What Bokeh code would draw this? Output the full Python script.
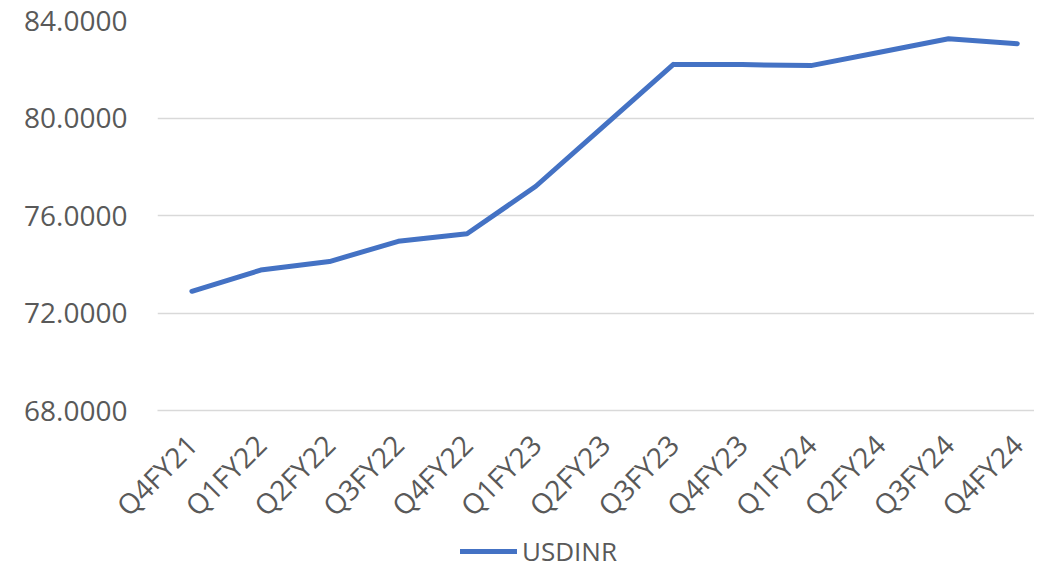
import math
from bokeh.plotting import figure
from bokeh.layouts import column
from bokeh.models import Range1d, FixedTicker, PrintfTickFormatter, Legend, LegendItem
from bokeh.embed import file_html
from bokeh.resources import INLINE

categories = ["Q4FY21", "Q1FY22", "Q2FY22", "Q3FY22", "Q4FY22", "Q1FY23", "Q2FY23",
              "Q3FY23", "Q4FY23", "Q1FY24", "Q2FY24", "Q3FY24", "Q4FY24"]
usdinr = [72.89, 73.76, 74.11, 74.94, 75.25, 77.20, 79.70,
          82.20, 82.19, 82.15, 82.70, 83.25, 83.05]
y_ticks = [68, 72, 76, 80, 84]
series_name = "USDINR"

FONT = "Open Sans"
TXT = "#595959"
GRID = "#d9d9d9"
LINE = "#4472C4"

x = list(range(len(categories)))

p = figure(width=1034, height=540, output_backend="svg", toolbar_location=None,
           x_range=Range1d(-0.5, 12.25), y_range=Range1d(68, 84),
           min_border_left=157, min_border_right=0, min_border_top=20, min_border_bottom=130)
p.outline_line_color = None
p.background_fill_color = "white"
p.border_fill_color = "white"

# y axis
p.yaxis.ticker = FixedTicker(ticks=y_ticks)
p.yaxis.formatter = PrintfTickFormatter(format="%.4f")
p.yaxis.axis_line_color = None
p.yaxis.major_tick_line_color = None
p.yaxis.minor_tick_line_color = None
p.yaxis.major_tick_out = 0
p.yaxis.major_tick_in = 0
p.yaxis.major_label_standoff = 30
p.yaxis.major_label_text_font = FONT
p.yaxis.major_label_text_font_size = "28px"
p.yaxis.major_label_text_color = TXT

# x axis
p.xaxis.ticker = FixedTicker(ticks=x)
p.xaxis.major_label_overrides = {i: c for i, c in enumerate(categories)}
p.xaxis.major_label_orientation = math.pi / 4
p.xaxis.axis_line_color = GRID
p.xaxis.axis_line_width = 1.3
p.xaxis.major_tick_line_color = None
p.xaxis.minor_tick_line_color = None
p.xaxis.major_tick_out = 0
p.xaxis.major_tick_in = 0
p.xaxis.major_label_standoff = 29
p.xaxis.major_label_text_font = FONT
p.xaxis.major_label_text_font_size = "28px"
p.xaxis.major_label_text_color = TXT

p.xgrid.grid_line_color = None
p.ygrid.grid_line_color = GRID
p.ygrid.grid_line_width = 1.3

p.line(x, usdinr, line_color=LINE, line_width=5, line_join="round", line_cap="round")

# legend strip below the chart (frame is aligned with the chart frame by the column)
p2 = figure(width=1034, height=29, output_backend="svg", toolbar_location=None,
            x_range=Range1d(100, 101), y_range=Range1d(0, 1),
            x_axis_type=None, y_axis_type=None,
            min_border_left=0, min_border_right=0, min_border_top=0, min_border_bottom=0)
p2.outline_line_color = None
p2.xgrid.grid_line_color = None
p2.ygrid.grid_line_color = None
key = p2.line(x, usdinr, line_color=LINE, line_width=5, line_cap="round", visible=False)

legend = Legend(items=[LegendItem(label=series_name, renderers=[key])],
                location=(303, 0), orientation="horizontal",
                padding=0, margin=0, spacing=0,
                glyph_width=57, glyph_height=20, label_height=20, label_standoff=5,
                label_text_font=FONT, label_text_font_size="26px", label_text_color=TXT,
                label_text_line_height=0.8,
                border_line_color=None, background_fill_alpha=0)
p2.add_layout(legend, "center")

layout = column(p, p2, spacing=0)
open("out.html", "w").write(file_html(layout, INLINE))
